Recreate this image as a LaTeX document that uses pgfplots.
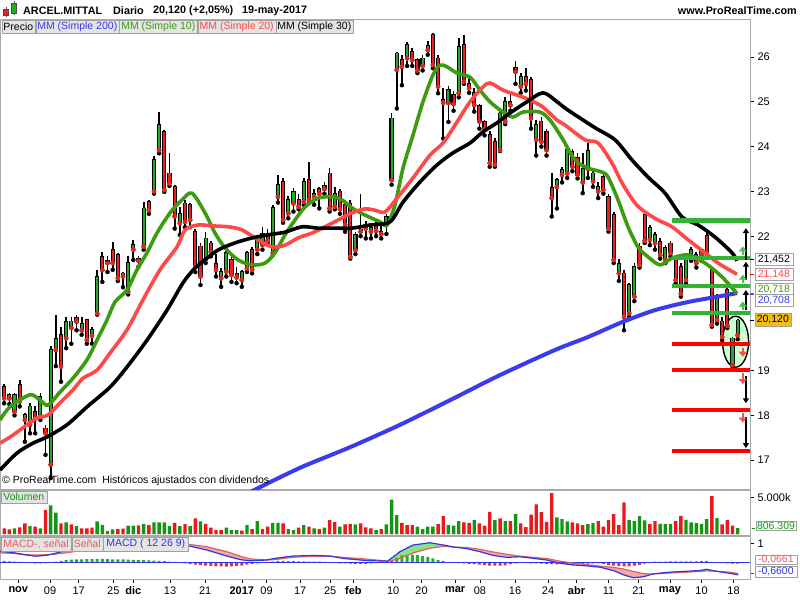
\documentclass[border=0pt]{standalone}
\usepackage{pgfplots}
\pgfplotsset{compat=1.18}
\usepackage{pgfplotstable}
\usetikzlibrary{arrows.meta}
\usepackage{fontspec}
\setmainfont{Liberation Sans}

\definecolor{cgreen}{RGB}{34,170,34}
\definecolor{cred}{RGB}{240,32,32}
\definecolor{magreen}{RGB}{60,155,15}
\definecolor{mared}{RGB}{255,72,72}
\definecolor{mablue}{RGB}{58,58,238}
\definecolor{hgreen}{RGB}{52,178,52}
\definecolor{hred}{RGB}{255,0,0}
\definecolor{vgreen}{RGB}{20,150,20}
\definecolor{vred}{RGB}{235,25,25}
\definecolor{framegray}{RGB}{170,170,170}
\definecolor{boxgray}{RGB}{228,228,228}
\definecolor{boxedge}{RGB}{160,160,160}
\definecolor{macdblue}{RGB}{50,50,230}
\definecolor{sigred}{RGB}{225,95,95}
\definecolor{fillpink}{RGB}{240,170,170}
\definecolor{fillgreen}{RGB}{140,225,140}
\definecolor{histgreen}{RGB}{40,175,40}
\definecolor{histred}{RGB}{205,60,60}
\definecolor{lblorange}{RGB}{245,190,20}

\newcommand{\lf}{\fontsize{10.5}{12}\selectfont}
\newcommand{\hf}{\bfseries\fontsize{10.8}{13}\selectfont}

\pgfplotsset{
  panel/.style={
    scale only axis, width=750pt,
    xmin=-3.814, xmax=141.39,
    axis line style={draw=framegray, line width=0.8pt},
    xtick=\empty,
    ytick pos=right, yticklabel pos=right,
    tick align=outside, major tick length=4pt,
    tick style={black, line width=0.6pt},
    yticklabel style={font=\fontsize{11}{13}\selectfont, anchor=west},
  },
}

% daily candles: index (0 = 1 nov 2016), open, high, low, close, green?
\pgfplotstableread{
i o h l c d
-3 18.64 18.70 18.27 18.38 0
-2 18.38 18.50 18.25 18.45 1
-1 18.08 18.50 18.00 18.45 1
0 18.68 18.80 18.20 18.31 0
1 17.90 18.05 17.41 18.01 1
2 17.79 18.27 17.60 18.20 1
3 18.08 18.20 17.60 17.93 0
4 17.97 18.51 17.90 18.42 1
5 17.71 17.78 17.12 17.60 0
6 16.90 19.55 16.60 19.46 1
7 19.46 20.24 19.10 19.70 1
8 19.80 19.98 18.75 19.09 0
9 19.72 20.20 19.50 20.09 1
10 19.95 20.20 19.60 20.10 1
11 20.17 20.25 19.90 20.09 0
12 19.90 20.20 19.80 20.05 1
13 20.13 20.15 19.60 19.68 0
14 19.78 19.98 19.60 19.90 1
15 20.28 21.25 20.25 21.10 1
16 21.54 21.65 20.98 21.24 0
17 21.40 21.55 21.20 21.45 1
18 21.69 21.88 21.25 21.40 0
19 21.58 21.62 21.00 21.06 0
20 21.10 21.20 20.86 21.17 1
21 20.76 21.55 20.70 21.40 1
22 21.70 21.92 21.47 21.80 1
23 21.50 21.55 21.32 21.45 0
24 21.77 22.77 21.70 22.62 1
25 22.77 22.80 22.50 22.58 0
26 23.00 23.78 22.95 23.70 1
27 23.92 24.78 23.85 24.48 1
28 24.33 24.37 22.99 23.03 0
29 23.40 23.85 23.12 23.18 0
30 23.10 23.15 22.17 22.44 0
31 22.29 22.65 22.03 22.50 1
32 22.73 22.80 22.20 22.32 0
33 22.70 22.75 22.20 22.36 0
34 22.10 22.15 21.20 21.32 0
35 21.77 21.85 20.91 21.10 0
36 21.47 22.10 21.40 21.95 1
37 21.84 21.90 21.55 21.65 0
38 21.39 21.60 21.10 21.25 0
39 21.06 21.30 20.87 21.21 1
40 21.21 21.66 21.10 21.62 1
41 21.47 21.55 20.98 21.13 0
42 21.16 21.32 20.95 21.08 0
43 21.02 21.25 20.87 21.21 1
44 21.28 21.66 21.20 21.62 1
45 21.69 21.75 21.17 21.25 0
46 21.70 22.00 21.60 21.92 1
47 21.80 22.20 21.70 22.05 1
48 22.05 22.15 21.85 21.90 0
49 21.62 22.70 21.58 22.64 1
50 22.88 23.37 22.75 23.14 1
51 23.22 23.30 22.30 22.36 0
52 22.51 22.90 22.40 22.81 1
53 22.73 23.07 22.55 22.99 1
54 22.81 22.95 22.60 22.66 0
55 22.77 23.30 22.70 23.22 1
56 23.25 23.66 22.75 22.81 0
57 22.88 23.05 22.70 22.95 1
58 23.05 23.10 22.62 22.95 0
59 23.05 23.20 22.95 23.12 1
60 23.40 23.52 22.55 22.62 0
61 22.66 23.10 22.60 22.95 1
62 23.00 23.05 22.50 22.60 0
63 22.70 22.78 22.10 22.25 0
64 22.73 22.80 21.50 21.54 0
65 21.69 22.10 21.60 22.03 1
66 22.10 22.95 22.00 22.15 1
67 22.24 22.35 21.95 22.17 0
68 22.10 22.30 21.95 22.18 1
69 22.25 22.35 22.00 22.12 0
70 22.05 22.35 21.95 22.10 1
71 22.25 22.50 22.05 22.43 1
72 23.25 24.74 23.15 24.63 1
73 25.71 26.12 24.85 26.08 1
74 25.93 26.05 25.37 25.78 0
75 25.97 26.34 25.80 26.27 1
76 26.12 26.20 25.80 25.93 0
77 25.93 25.98 25.64 25.70 0
78 25.80 26.05 25.70 25.97 1
79 26.15 26.35 26.05 26.25 1
80 26.49 26.53 25.75 25.82 0
81 25.97 26.05 25.19 25.34 0
82 25.05 25.30 24.18 24.98 0
83 24.97 25.35 24.55 25.26 1
84 25.15 25.25 24.80 24.95 0
85 25.19 26.42 25.10 26.23 1
86 26.27 26.49 25.40 25.45 0
87 25.40 25.55 25.20 25.30 0
88 25.20 25.30 24.78 24.93 0
89 24.90 24.95 24.40 24.56 0
90 24.55 24.60 24.25 24.40 0
91 24.26 24.35 23.55 23.63 0
92 24.10 24.20 23.55 23.60 0
93 23.92 24.80 23.90 24.74 1
94 24.56 25.11 24.50 25.00 1
95 25.00 25.20 24.80 24.92 0
96 25.75 25.90 25.40 25.67 0
97 25.34 25.65 25.20 25.56 1
98 25.55 25.75 25.25 25.40 0
99 25.49 25.55 24.40 24.63 0
100 24.15 24.60 23.80 24.48 1
101 24.56 24.65 24.00 24.11 0
102 24.33 24.40 23.80 23.92 0
103 23.07 23.40 22.44 22.85 0
104 23.10 23.30 22.62 23.25 1
105 23.37 23.55 23.20 23.48 1
106 23.40 24.00 23.30 23.92 1
107 23.89 23.95 23.45 23.55 0
108 23.74 23.85 23.29 23.37 0
109 23.20 23.85 22.96 23.50 1
110 23.50 24.07 23.30 23.90 1
111 23.22 23.45 23.10 23.40 1
112 23.00 23.20 22.85 23.10 1
113 23.33 23.40 22.95 23.03 0
114 22.88 22.95 22.10 22.17 0
115 22.47 22.55 21.40 21.47 0
116 21.17 21.50 21.00 21.39 1
117 21.17 21.25 19.90 20.20 0
118 20.28 20.95 20.20 20.91 1
119 20.65 21.40 20.55 21.32 1
120 21.77 21.85 21.30 21.36 0
121 22.47 22.50 21.85 21.90 0
122 21.92 22.25 21.80 22.18 1
123 21.84 22.10 21.70 22.03 1
124 21.87 21.95 21.50 21.58 0
125 21.47 21.80 21.40 21.73 1
126 21.84 21.90 21.55 21.62 0
127 21.50 21.55 20.95 21.02 0
128 21.32 21.40 20.65 20.72 0
129 21.02 21.55 20.95 21.50 1
130 21.54 21.75 21.45 21.69 1
131 21.58 21.65 21.30 21.40 0
132 21.58 21.72 21.45 21.69 1
133 22.00 22.17 21.55 21.62 0
134 21.28 21.32 19.98 20.02 0
135 20.13 20.70 20.05 20.61 1
136 20.10 20.20 19.68 19.75 0
137 20.80 20.85 19.95 20.00 0
138 19.12 19.75 19.09 19.72 1
139 19.79 20.15 19.70 20.12 1
}\candles

% volume in thousands, g = green bar
\pgfplotstableread{
i v g
-3 765 0
-2 630 0
-1 765 1
0 900 0
1 1440 0
2 1080 1
3 990 0
4 765 1
5 3240 0
6 3915 1
7 2925 1
8 1440 0
9 1575 1
10 1305 0
11 1080 1
12 765 0
13 765 0
14 855 0
15 1710 1
16 1260 1
17 405 1
18 630 1
19 675 0
20 720 0
21 1125 1
22 1125 1
23 1170 0
24 1395 1
25 1215 0
26 1575 1
27 1575 1
28 1575 1
29 1080 1
30 1530 0
31 1080 1
32 1350 0
33 1080 1
34 2115 0
35 1710 1
36 1395 0
37 855 0
38 540 0
39 540 0
40 855 1
41 540 1
42 540 1
43 450 0
44 1215 1
45 675 0
46 1755 1
47 675 0
48 990 0
49 1530 1
50 1530 1
51 1440 0
52 675 1
53 540 1
54 855 0
55 1215 1
56 990 0
57 765 1
58 675 0
59 855 1
60 1890 0
61 1665 0
62 990 1
63 1305 0
64 1395 0
65 1305 1
66 1440 0
67 900 0
68 765 0
69 540 1
70 675 0
71 1305 1
72 4680 1
73 2565 1
74 1530 0
75 1215 0
76 1215 0
77 990 1
78 675 1
79 990 1
80 990 1
81 1350 0
82 2430 0
83 1215 1
84 1125 1
85 1755 1
86 1575 0
87 1530 0
88 1890 1
89 1440 0
90 1125 0
91 3015 0
92 1890 1
93 2115 0
94 1755 1
95 1755 0
96 2700 1
97 1440 0
98 945 0
99 2655 0
100 4050 0
101 2970 0
102 1665 0
103 5580 0
104 2250 1
105 2025 1
106 1710 1
107 1575 0
108 1440 0
109 1215 0
110 1350 1
111 1485 1
112 1755 0
113 990 0
114 1890 0
115 2700 0
116 1215 0
117 4320 0
118 1890 1
119 1755 1
120 2430 1
121 1845 1
122 1350 0
123 1755 0
124 1395 1
125 1395 1
126 1395 1
127 1755 0
128 2475 0
129 1935 1
130 1575 1
131 1485 1
132 1395 1
133 2025 1
134 5175 0
135 2160 1
136 1305 0
137 1890 0
138 1125 0
139 806 1
}\volumes

% MACD histogram (MACD minus signal)
\pgfplotstableread{
i h g
-3 0.07 1
-2 0.05 1
-1 0.04 1
0 0.02 1
2 -0.03 0
3 -0.06 0
4 -0.05 0
5 -0.04 0
6 0.01 1
7 0.04 1
8 0.08 1
9 0.12 1
10 0.14 1
11 0.15 1
12 0.16 1
13 0.17 1
14 0.17 1
15 0.18 1
16 0.18 1
17 0.17 1
18 0.16 1
19 0.15 1
20 0.15 1
21 0.14 1
22 0.13 1
23 0.12 1
24 0.12 1
25 0.10 1
26 0.09 1
27 0.07 1
28 0.06 1
29 0.04 1
30 0.02 1
32 -0.05 0
33 -0.09 0
34 -0.12 0
35 -0.15 0
36 -0.17 0
37 -0.19 0
38 -0.21 0
39 -0.22 0
40 -0.23 0
41 -0.21 0
42 -0.19 0
43 -0.17 0
44 -0.12 0
45 -0.09 0
46 -0.06 0
47 -0.02 0
48 0.01 1
49 0.05 1
50 0.07 1
51 0.07 1
52 0.06 1
53 0.06 1
54 0.05 1
55 0.05 1
56 0.04 1
57 0.04 1
58 0.03 1
59 0.02 1
60 0.01 1
61 -0.02 0
62 -0.05 0
63 -0.06 0
64 -0.07 0
65 -0.08 0
66 -0.08 0
67 -0.08 0
68 -0.06 0
69 -0.04 0
70 -0.03 0
71 -0.01 0
72 0.10 1
73 0.22 1
74 0.36 1
75 0.40 1
76 0.41 1
77 0.38 1
78 0.33 1
79 0.29 1
80 0.20 1
81 0.12 1
82 0.07 1
83 0.02 1
84 -0.02 0
85 -0.04 0
86 -0.06 0
87 -0.08 0
88 -0.10 0
89 -0.12 0
90 -0.15 0
91 -0.17 0
92 -0.18 0
93 -0.17 0
94 -0.16 0
95 -0.10 0
96 -0.05 0
97 -0.03 0
98 -0.04 0
99 -0.05 0
100 -0.06 0
101 -0.07 0
102 -0.08 0
103 -0.10 0
104 -0.11 0
105 -0.10 0
106 -0.10 0
107 -0.10 0
108 -0.09 0
109 -0.08 0
110 -0.07 0
111 -0.06 0
112 -0.06 0
113 -0.10 0
114 -0.14 0
115 -0.17 0
116 -0.20 0
117 -0.22 0
118 -0.22 0
119 -0.18 0
120 -0.13 0
121 -0.07 0
122 -0.01 0
123 0.03 1
124 0.04 1
125 0.04 1
126 0.05 1
127 0.05 1
128 0.05 1
129 0.05 1
130 0.05 1
131 0.05 1
132 0.06 1
133 0.08 1
134 0.02 1
135 -0.02 0
136 -0.04 0
137 -0.06 0
138 -0.065 0
139 -0.066 0
}\hist

% MACD line (m) and signal line (s)
\pgfplotstableread{
i m s
-3.8 0.58 0.50
-1 0.50 0.46
1 0.40 0.40
3 0.32 0.38
5 0.36 0.40
6 0.415 0.415
6.5 0.45 0.42
9 0.62 0.50
12 0.78 0.62
16 0.98 0.80
20 1.08 0.93
24 1.15 1.03
28 1.14 1.08
31 1.05 1.05
32.6 0.87 0.95
36.2 0.65 0.82
40.1 0.33 0.56
42.7 0.14 0.32
44.6 0.08 0.18
47.8 0.12 0.12
49.7 0.22 0.15
53 0.33 0.27
57 0.36 0.32
60.1 0.33 0.32
60.5 0.31 0.31
62.7 0.20 0.26
67.2 0.09 0.17
71.2 0.06 0.06
73 0.42 0.14
73.6 0.56 0.20
76.2 0.91 0.50
79.4 1.03 0.74
82 0.91 0.84
84.2 0.80 0.80
86.5 0.72 0.78
89.1 0.56 0.68
91.7 0.36 0.54
94.3 0.26 0.42
96.9 0.29 0.32
99.4 0.21 0.26
102 0.12 0.20
104.6 -0.05 0.06
107.2 -0.14 -0.04
109.8 -0.19 -0.12
112.4 -0.26 -0.20
115 -0.44 -0.27
117 -0.67 -0.36
118.8 -0.81 -0.48
120.8 -0.76 -0.60
122.5 -0.617 -0.617
125.3 -0.53 -0.57
128.5 -0.48 -0.53
131.7 -0.43 -0.48
133 -0.37 -0.45
134.8 -0.47 -0.47
137.5 -0.58 -0.52
139.1 -0.66 -0.594
}\macdtab

\begin{document}
\begin{tikzpicture}[x=1pt,y=1pt]

% ---------------- price panel ----------------
\begin{axis}[panel, at={(0pt,111pt)}, anchor=south west, height=470pt,
  clip mode=individual,
  ymin=16.357, ymax=26.848,
  ytick={17,18,19,22,23,24,25,26}, yticklabels={17,18,19,22,23,24,25,26}]

\draw[fill=green!18, draw=black, line width=1.4pt] (axis cs:138.6,19.645) ellipse [x radius=13pt, y radius=25.5pt];

% wicks
\addplot[black, only marks, mark=none, forget plot,
  error bars/.cd, y dir=plus, y explicit, error mark=none,
  error bar style={line width=1.7pt}]
  table[x=i, y=l, y error plus expr={\thisrow{h}-\thisrow{l}}] {\candles};
% body outline
\addplot[black, only marks, mark=none, forget plot,
  error bars/.cd, y dir=plus, y explicit, error mark=none,
  error bar style={line width=4.2pt, shorten <=-0.8pt, shorten >=-0.8pt}]
  table[x=i, y expr={min(\thisrow{o},\thisrow{c})}, y error plus expr={abs(\thisrow{c}-\thisrow{o})}] {\candles};
% body fill (a zero length leaves the other colour out)
\addplot[cgreen, only marks, mark=none, forget plot,
  error bars/.cd, y dir=plus, y explicit, error mark=none,
  error bar style={line width=2.1pt}]
  table[x=i, y expr={min(\thisrow{o},\thisrow{c})}, y error plus expr={abs(\thisrow{c}-\thisrow{o})*\thisrow{d}}] {\candles};
\addplot[cred, only marks, mark=none, forget plot,
  error bars/.cd, y dir=plus, y explicit, error mark=none,
  error bar style={line width=2.1pt}]
  table[x=i, y expr={min(\thisrow{o},\thisrow{c})}, y error plus expr={abs(\thisrow{c}-\thisrow{o})*(1-\thisrow{d})}] {\candles};

% MM 200
\addplot[mablue, line width=4pt, smooth, line join=round] coordinates {
(44.63,16.29) (54.27,16.83) (63.95,17.29) (73.63,17.79) (83.31,18.34) (92.99,18.90)
(103.64,19.46) (110.03,19.75) (116.61,20.08) (123.00,20.35) (129.39,20.53) (134.62,20.64) (138.87,20.73)};
% MM 10
\addplot[magreen, line width=3.6pt, smooth, line join=round] coordinates {
(-3.81,17.90) (-1.88,18.19) (1.99,18.46) (3.93,18.34) (5.48,18.23) (7.80,18.52) (10.32,18.83)
(13.03,19.24) (14.97,19.68) (16.90,20.13) (18.45,20.53) (20.77,20.80) (22.71,21.25) (24.65,21.63)
(26.58,22.07) (29.10,22.52) (31.42,22.81) (33.36,22.96) (35.88,22.52) (37.81,22.07) (39.75,21.74)
(42.27,21.47) (44.98,21.36) (47.49,21.40) (49.43,21.63) (51.37,22.03) (53.30,22.36) (55.24,22.65)
(57.76,22.85) (60.47,22.88) (62.40,22.81) (64.34,22.63) (66.86,22.47) (69.76,22.32) (71.11,22.25)
(72.66,22.70) (74.21,23.52) (76.15,24.26) (78.08,25.00) (80.02,25.60) (81.37,25.82) (82.73,25.78)
(84.67,25.64) (87.18,25.55) (89.12,25.26) (91.05,25.00) (93.57,24.77) (95.50,24.66) (97.44,24.77)
(100.73,24.77) (102.67,24.59) (105.00,24.19) (107.51,23.70) (110.03,23.52) (112.74,23.43) (113.90,23.32)
(115.84,22.81) (117.77,22.21) (119.71,21.76) (121.64,21.54) (123.97,21.36) (126.29,21.51) (129.39,21.58)
(132.68,21.40) (135.97,21.09) (138.87,20.72)};
% MM 20
\addplot[mared, line width=3.6pt, smooth, line join=round] coordinates {
(-3.81,17.38) (-1.30,17.56) (1.41,17.79) (3.35,17.94) (5.48,18.01) (7.80,18.28) (10.32,18.57)
(12.27,18.83) (14.97,19.01) (17.48,19.39) (20.77,19.91) (23.87,20.58) (27.16,21.25) (30.45,21.76)
(32.04,22.14) (34.52,22.25) (37.23,22.23) (40.33,22.21) (43.04,22.14) (46.13,21.92) (48.85,21.76)
(51.36,21.80) (53.88,21.96) (56.59,22.07) (59.11,22.21) (61.63,22.36) (64.34,22.52) (66.86,22.61)
(68.79,22.58) (70.73,22.54) (73.05,22.85) (76.15,23.30) (79.44,23.81) (81.96,24.08) (84.67,24.55)
(87.18,25.00) (89.70,25.33) (91.05,25.42) (93.57,25.26) (96.28,25.15) (98.80,25.04) (101.31,24.88)
(104.03,24.59) (105.57,24.48) (109.45,24.15) (111.97,24.08) (114.68,23.63) (116.61,23.19) (119.13,22.74)
(121.07,22.54) (123.58,22.36) (126.29,22.21) (129.39,21.92) (132.68,21.63) (135.20,21.40) (138.87,21.15)};
% MM 30
\addplot[black, line width=3.6pt, smooth, line join=round] coordinates {
(-3.81,16.78) (-0.52,17.16) (2.57,17.38) (5.29,17.52) (9.16,17.79) (13.03,18.19) (17.48,18.63)
(20.77,19.08) (24.65,19.68) (28.52,20.35) (31.62,20.96) (33.94,21.29) (35.29,21.42) (38.39,21.69)
(41.68,21.85) (44.98,21.96) (48.07,22.03) (51.36,22.09) (54.65,22.21) (57.75,22.18) (61.04,22.18)
(64.34,22.18) (67.83,22.25) (71.69,22.32) (74.21,22.76) (77.50,23.21) (80.79,23.59) (83.89,23.86)
(87.18,24.08) (89.70,24.33) (92.41,24.53) (94.93,24.75) (98.22,25.00) (101.31,25.20) (104.03,25.00)
(105.57,24.86) (107.51,24.71) (111.39,24.42) (115.26,24.15) (118.55,23.70) (121.64,23.32) (124.94,22.96)
(128.23,22.43) (131.33,22.25) (134.62,21.98) (137.91,21.63) (138.87,21.45)};

% support / resistance levels
\addplot[hgreen, line width=4.5pt] coordinates {(126.3,22.35) (141.39,22.35)};
\addplot[hgreen, line width=4.5pt] coordinates {(126.3,21.51) (141.39,21.51)};
\addplot[hgreen, line width=4.5pt] coordinates {(126.3,20.89) (141.39,20.89)};
\addplot[hgreen, line width=4.5pt] coordinates {(126.3,20.29) (141.39,20.29)};
\addplot[hred, line width=4.5pt] coordinates {(126.3,19.59) (141.39,19.59)};
\addplot[hred, line width=4.5pt] coordinates {(126.3,19.01) (141.39,19.01)};
\addplot[hred, line width=4.5pt] coordinates {(126.3,18.12) (141.39,18.12)};
\addplot[hred, line width=4.5pt] coordinates {(126.3,17.21) (141.39,17.21)};

% arrows
\addplot[black, line width=1.6pt, -{Triangle[width=6pt,length=5pt]}, quiver={u=0, v=\thisrow{v}}]
  table[x=i, y=y] {
i y v
140.6 21.47 0.71
140.6 21.02 0.41
140.6 20.35 0.45
140.6 18.87 -0.60
140.6 17.97 -0.70
};
\addplot[green!65!black!70!white, line width=2pt, -{Triangle[width=8pt,length=5pt]}, quiver={u=0, v=\thisrow{v}}]
  table[x=i, y=y] {
i y v
140.0 21.58 0.19
140.0 20.95 0.19
140.0 20.35 0.19
};
\addplot[red!70, line width=2pt, -{Triangle[width=8pt,length=5pt]}, quiver={u=0, v=\thisrow{v}}]
  table[x=i, y=y] {
i y v
140.0 19.50 -0.19
140.0 18.94 -0.24
140.0 18.05 -0.21
};
\end{axis}

% ---------------- volume panel ----------------
\begin{axis}[panel, at={(0pt,65pt)}, anchor=south west, height=45pt,
  ymin=-136, ymax=5995, ytick={5000}, yticklabels={5.000k}]
\addplot[ybar, bar width=3.4pt, bar shift=0pt, fill=vgreen, draw=none]
  table[x=i, y expr={\thisrow{v}*\thisrow{g}}] {\volumes};
\addplot[ybar, bar width=3.4pt, bar shift=0pt, fill=vred, draw=none]
  table[x=i, y expr={\thisrow{v}*(1-\thisrow{g})}] {\volumes};
\end{axis}

% ---------------- MACD panel ----------------
\begin{axis}[panel, at={(0pt,21pt)}, anchor=south west, height=43pt,
  ymin=-0.879, ymax=1.384, ytick={1}, yticklabels={1},
  xtick={-0.27,5.87,11.42,18.12,22.0,29.1,35.9,43.0,47.8,54.3,60.1,64.6,72.3,77.8,84.3,89.1,95.9,102.3,107.8,114.0,119.8,125.9,132.0,138.2},
  xticklabels={\textbf{nov},09,17,25,\textbf{dic},13,21,\textbf{2017},09,17,25,\textbf{feb},10,20,\textbf{mar},08,16,24,\textbf{abr},11,21,\textbf{may},10,18},
  xtick pos=left,
  xticklabel style={font=\fontsize{11}{13}\selectfont}]
% area between MACD and signal: green where MACD is above, pink where below
\addplot[fill=fillgreen, draw=none] coordinates {(-3.8,0.58) (-1,0.50) (1,0.40) (-1,0.46) (-3.8,0.50)} -- cycle;
\addplot[fill=fillpink, draw=none] coordinates {(1,0.40) (3,0.32) (5,0.36) (6,0.415) (5,0.40) (3,0.38)} -- cycle;
\addplot[fill=fillgreen, draw=none] coordinates {(6,0.415) (6.5,0.45) (9,0.62) (12,0.78) (16,0.98) (20,1.08) (24,1.15) (28,1.14) (31,1.05)
  (28,1.08) (24,1.03) (20,0.93) (16,0.80) (12,0.62) (9,0.50) (6.5,0.42)} -- cycle;
\addplot[fill=fillpink, draw=none] coordinates {(31,1.05) (32.6,0.87) (36.2,0.65) (40.1,0.33) (42.7,0.14) (44.6,0.08) (47.8,0.12)
  (44.6,0.18) (42.7,0.32) (40.1,0.56) (36.2,0.82) (32.6,0.95)} -- cycle;
\addplot[fill=fillgreen, draw=none] coordinates {(47.8,0.12) (49.7,0.22) (53,0.33) (57,0.36) (60.1,0.33) (60.5,0.31)
  (60.1,0.32) (57,0.32) (53,0.27) (49.7,0.15)} -- cycle;
\addplot[fill=fillpink, draw=none] coordinates {(60.5,0.31) (62.7,0.20) (67.2,0.09) (71.2,0.06) (67.2,0.17) (62.7,0.26)} -- cycle;
\addplot[fill=fillgreen, draw=none] coordinates {(71.2,0.06) (73,0.42) (73.6,0.56) (76.2,0.91) (79.4,1.03) (82,0.91) (84.2,0.80)
  (82,0.84) (79.4,0.74) (76.2,0.50) (73.6,0.20) (73,0.14)} -- cycle;
\addplot[fill=fillpink, draw=none] coordinates {(84.2,0.80) (86.5,0.72) (89.1,0.56) (91.7,0.36) (94.3,0.26) (96.9,0.29) (99.4,0.21)
  (102,0.12) (104.6,-0.05) (107.2,-0.14) (109.8,-0.19) (112.4,-0.26) (115,-0.44) (117,-0.67) (118.8,-0.81) (120.8,-0.76) (122.5,-0.617)
  (120.8,-0.60) (118.8,-0.48) (117,-0.36) (115,-0.27) (112.4,-0.20) (109.8,-0.12) (107.2,-0.04) (104.6,0.06) (102,0.20) (99.4,0.26)
  (96.9,0.32) (94.3,0.42) (91.7,0.54) (89.1,0.68) (86.5,0.78)} -- cycle;
\addplot[fill=fillgreen, draw=none] coordinates {(122.5,-0.617) (125.3,-0.53) (128.5,-0.48) (131.7,-0.43) (133,-0.37) (134.8,-0.47)
  (133,-0.45) (131.7,-0.48) (128.5,-0.53) (125.3,-0.57)} -- cycle;
\addplot[fill=fillpink, draw=none] coordinates {(134.8,-0.47) (137.5,-0.58) (139.1,-0.66) (139.1,-0.594) (137.5,-0.52)} -- cycle;
% histogram
\addplot[ybar, bar width=3pt, bar shift=0pt, fill=histgreen, draw=none]
  table[x=i, y expr={\thisrow{h}*\thisrow{g}}] {\hist};
\addplot[ybar, bar width=3pt, bar shift=0pt, fill=histred, draw=none]
  table[x=i, y expr={\thisrow{h}*(1-\thisrow{g})}] {\hist};
\addplot[macdblue, line width=1.3pt] coordinates {(-3.814,0) (141.39,0)};
\addplot[sigred, line width=1.2pt] table[x=i, y=s] {\macdtab};
\addplot[macdblue, line width=1.2pt] table[x=i, y=m] {\macdtab};
\end{axis}

% ---------------- header and legends ----------------
\draw[black!70, line width=0.8pt] (6,583) -- (6,593);
\draw[fill=cred, draw=black!70] (3.5,585) rectangle (8.5,591);
\draw[black!70, line width=0.8pt] (14,585) -- (14,599);
\draw[fill=cgreen, draw=black!70] (11.5,587) rectangle (16.5,597);
\node[anchor=west, inner sep=0, font=\hf] at (23,589.5) {ARCEL.MITTAL};
\node[anchor=west, inner sep=0, font=\hf] at (113,589.5) {Diario};
\node[anchor=west, inner sep=0, font=\hf] at (153,589.5) {20,120 (+2,05\%)};
\node[anchor=west, inner sep=0, font=\hf] at (242,589.5) {19-may-2017};
\node[anchor=east, inner sep=0, font=\hf] at (797,589.5) {www.ProRealTime.com};

\draw[fill=boxgray, draw=boxedge] (1.7,566.7) rectangle (35,579.3);
\node[font=\lf] at (18.3,573) {Precio};
\draw[fill=boxgray, draw=boxedge] (35.7,566.7) rectangle (119,579.3);
\node[font=\lf, text=mablue] at (77.3,573) {MM (Simple 200)};
\draw[fill=boxgray, draw=boxedge] (119.3,566.7) rectangle (197.3,579.3);
\node[font=\lf, text=magreen] at (158.3,573) {MM (Simple 10)};
\draw[fill=boxgray, draw=boxedge] (197.7,566.7) rectangle (275.7,579.3);
\node[font=\lf, text=mared] at (236.7,573) {MM (Simple 20)};
\draw[fill=boxgray, draw=boxedge] (276,566.7) rectangle (352.7,579.3);
\node[font=\lf] at (314.3,573) {MM (Simple 30)};

\node[anchor=west, inner sep=0, font=\lf] at (2,119) {\textcopyright{} ProRealTime.com\ \ Históricos ajustados con dividendos};

\draw[fill=boxgray, draw=boxedge] (1,97) rectangle (46.7,109.3);
\node[font=\lf, text=vgreen] at (23.8,103.2) {Volumen};

\draw[fill=boxgray, draw=boxedge] (1,49.3) rectangle (71,62.7);
\node[font=\lf, text=sigred] at (36,56) {MACD-, señal};
\draw[fill=boxgray, draw=boxedge] (71.7,49.3) rectangle (102.7,62.7);
\node[font=\lf, text=sigred] at (87.2,56) {Señal};
\draw[fill=boxgray, draw=boxedge] (103.3,49.3) rectangle (188.3,62.7);
\node[font=\lf, text=macdblue] at (145.8,56) {MACD ( 12 26 9)};

% ---------------- right-hand value boxes ----------------
\draw[black, line width=0.8pt] (750,341) -- (754,341);
\draw[hred, line width=0.8pt] (750,325.6) -- (754,325.6);
\draw[magreen, line width=0.8pt] (750,306.8) -- (754,306.8);
\draw[mablue, line width=0.8pt] (750,306) -- (754,306);
\draw[black, line width=0.8pt] (750,279.6) -- (754,279.6);
\draw[fill=white, draw=boxedge] (755,334.3) rectangle (792.7,346.7);
\node[font=\lf] at (773.8,340.5) {21,452};
\draw[fill=white, draw=boxedge] (755,319.3) rectangle (792.7,331.7);
\node[font=\lf, text=mared] at (773.8,325.5) {21,148};
\draw[fill=white, draw=boxedge] (755,305) rectangle (792.7,316.7);
\node[font=\lf, text=magreen] at (773.8,310.5) {20,718};
\draw[fill=white, draw=boxedge] (755,293.3) rectangle (792.7,306);
\node[font=\lf, text=mablue] at (773.8,299.6) {20,708};
\draw[fill=lblorange, draw=boxedge] (755,273.3) rectangle (790.7,286.7);
\node[font=\lf] at (772.8,280) {20,120};

\draw[vgreen, line width=0.8pt] (751.7,71.3) -- (755,71.3);
\draw[fill=white, draw=boxedge] (756,70) rectangle (796,79.3);
\node[font=\lf, text=vgreen] at (776,74.6) {806.309};

\draw[fill=white, draw=boxedge] (755,36) rectangle (796.7,45);
\node[font=\lf, text=sigred] at (775.8,40.5) {-0,0661};
\draw[macdblue, line width=0.8pt] (750.7,26.7) -- (754,26.7);
\draw[fill=white, draw=boxedge] (755,23.3) rectangle (796.7,34);
\node[font=\lf, text=macdblue] at (775.8,28.6) {-0,6600};

\pgfresetboundingbox
\path[use as bounding box] (0,0) rectangle (800,600);
\end{tikzpicture}
\end{document}
